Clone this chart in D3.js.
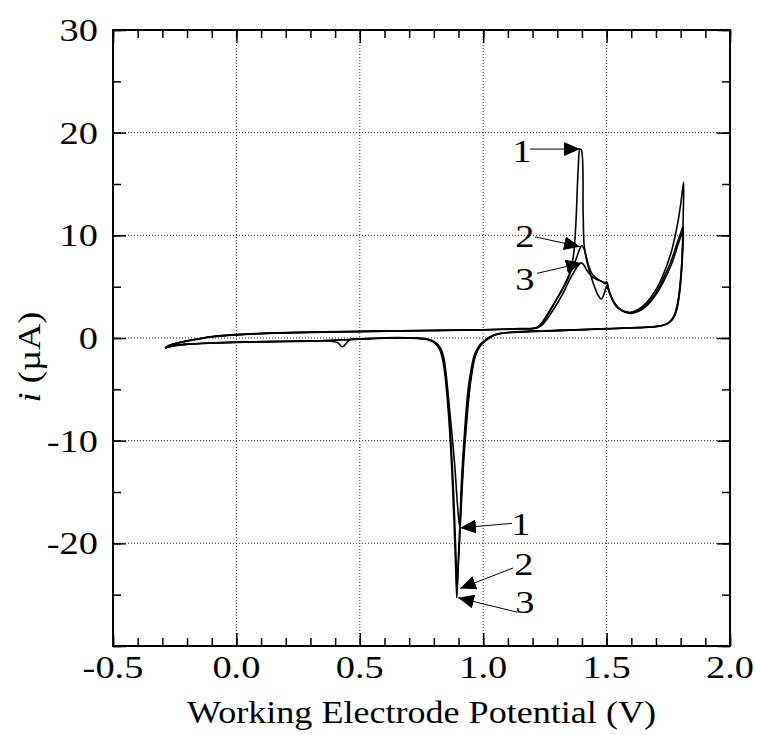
<!DOCTYPE html>
<meta charset="utf-8">
<style>
    body { margin: 0; background: #fff; }
    text { font-family: "Liberation Serif", Tinos, "Times New Roman", Times, "Nimbus Roman", "Nimbus Roman No9 L", FreeSerif, serif; fill: #000; }
    .grid line { stroke: #333; stroke-width: 1px; stroke-dasharray: 1,2; }
    .tick line { stroke: #000; stroke-width: 1.5px; }
    .cv { fill: none; stroke: #000; stroke-width: 1.6px; stroke-linejoin: round; }
    .ann { stroke: #000; stroke-width: 1px; }
</style>
<svg width="757" height="735"></svg>
<script src="https://d3js.org/d3.v7.min.js"></script>
<script>

    // potential (V), current (uA) -- three CV cycles
    var cycle1 = [
        [-0.29,-1.0],[-0.28,-0.8],[-0.26,-0.62],[-0.22,-0.4],[-0.17,-0.15],[-0.1,0.1],[0.0,0.3],[0.1,0.42],
        [0.25,0.52],[0.5,0.62],[0.75,0.7],[1.0,0.78],[1.15,0.88],[1.21,0.95],[1.23,1.25],[1.26,2.3],
        [1.30,3.9],[1.34,5.6],[1.365,7.9],[1.385,16.5],[1.392,18.4],[1.398,18.3],[1.405,12.0],[1.41,8.8],
        [1.425,7.0],[1.445,5.4],[1.465,4.2],[1.478,3.8],[1.49,4.3],[1.50,5.0],[1.515,4.2],[1.535,3.2],
        [1.56,2.7],[1.595,2.5],[1.63,2.8],[1.66,3.4],[1.70,4.7],[1.73,6.2],[1.76,8.2],[1.785,10.8],
        [1.80,13.0],[1.812,15.2],
        [1.811,12.5],[1.808,9.5],[1.803,6.5],[1.795,4.3],[1.785,2.8],[1.77,1.9],[1.75,1.45],[1.72,1.2],
        [1.68,1.08],[1.5,0.9],[1.3,0.72],[1.12,0.55],[1.06,0.4],[1.03,0.15],[1.005,-0.25],[0.985,-0.7],
        [0.965,-1.6],[0.95,-3.2],[0.938,-5.2],[0.928,-8.0],[0.918,-11.5],[0.91,-15.0],[0.905,-18.5],
        [0.895,-16.0],[0.885,-12.5],[0.872,-9.0],[0.86,-6.0],[0.85,-3.6],[0.84,-1.9],[0.826,-0.95],
        [0.805,-0.4],[0.775,-0.12],[0.72,0.0],[0.6,0.02],[0.5,-0.08],[0.46,-0.15],[0.43,-0.85],[0.41,-0.45],
        [0.38,-0.3],[0.3,-0.3],[0.15,-0.35],[0.0,-0.42],[-0.1,-0.5],[-0.2,-0.62],[-0.25,-0.75],[-0.28,-0.9],
        [-0.29,-1.0]
    ];

    var cycle2 = [
        [-0.285,-0.95],[-0.27,-0.72],[-0.25,-0.55],[-0.21,-0.33],[-0.16,-0.1],[-0.1,0.12],[0.0,0.32],[0.1,0.44],
        [0.25,0.54],[0.5,0.64],[0.75,0.72],[1.0,0.8],[1.15,0.9],[1.215,0.98],[1.235,1.3],[1.27,2.6],
        [1.31,4.3],[1.35,6.2],[1.375,7.6],[1.39,8.6],[1.40,9.0],[1.41,8.6],[1.425,7.2],[1.44,6.3],
        [1.46,5.8],[1.48,5.5],[1.495,5.4],[1.50,5.5],[1.51,4.6],[1.53,3.5],[1.555,2.8],[1.59,2.45],
        [1.625,2.6],[1.66,3.2],[1.70,4.4],[1.73,5.8],[1.76,7.4],[1.785,9.2],[1.80,10.2],[1.81,10.8],
        [1.809,9.0],[1.805,7.0],[1.798,5.0],[1.788,3.3],[1.775,2.2],[1.755,1.55],[1.73,1.25],[1.70,1.12],
        [1.5,0.92],[1.3,0.74],[1.12,0.57],[1.065,0.42],[1.035,0.15],[1.01,-0.25],[0.99,-0.7],[0.97,-1.6],
        [0.955,-3.3],[0.943,-5.5],[0.932,-8.5],[0.921,-12.0],[0.912,-16.0],[0.904,-20.0],[0.898,-22.8],
        [0.894,-24.5],[0.89,-21.5],[0.884,-17.5],[0.876,-13.0],[0.866,-8.8],[0.856,-5.6],[0.846,-3.3],
        [0.836,-1.8],[0.822,-0.9],[0.8,-0.38],[0.77,-0.1],[0.7,0.02],[0.6,0.0],[0.5,-0.1],[0.4,-0.2],
        [0.3,-0.28],[0.15,-0.33],[0.0,-0.4],[-0.1,-0.48],[-0.2,-0.6],[-0.25,-0.72],[-0.275,-0.85],[-0.285,-0.95]
    ];

    var cycle3 = [
        [-0.28,-0.9],[-0.265,-0.7],[-0.245,-0.52],[-0.2,-0.3],[-0.15,-0.08],[-0.1,0.13],[0.0,0.33],[0.1,0.45],
        [0.25,0.55],[0.5,0.65],[0.75,0.73],[1.0,0.81],[1.15,0.91],[1.22,1.0],[1.24,1.3],[1.28,2.6],
        [1.32,4.2],[1.355,5.9],[1.38,6.9],[1.395,7.3],[1.405,7.2],[1.42,6.6],[1.44,6.0],[1.46,5.7],
        [1.48,5.5],[1.495,5.3],[1.50,5.4],[1.512,4.4],[1.535,3.3],[1.56,2.7],[1.595,2.4],[1.63,2.6],
        [1.665,3.2],[1.705,4.4],[1.735,5.7],[1.765,7.3],[1.788,9.0],[1.802,10.0],[1.81,10.4],
        [1.808,8.6],[1.803,6.7],[1.796,4.8],[1.786,3.2],[1.772,2.1],[1.752,1.5],[1.725,1.22],[1.70,1.1],
        [1.5,0.9],[1.3,0.72],[1.12,0.56],[1.06,0.4],[1.03,0.12],[1.007,-0.28],[0.988,-0.75],[0.968,-1.7],
        [0.953,-3.4],[0.94,-5.8],[0.929,-8.8],[0.918,-12.5],[0.909,-16.5],[0.901,-20.5],[0.896,-23.5],
        [0.893,-25.3],[0.888,-22.0],[0.882,-18.0],[0.874,-13.5],[0.864,-9.0],[0.854,-5.8],[0.844,-3.4],
        [0.834,-1.9],[0.82,-0.95],[0.798,-0.4],[0.768,-0.12],[0.7,0.0],[0.6,-0.02],[0.5,-0.12],[0.4,-0.22],
        [0.3,-0.3],[0.15,-0.36],[0.0,-0.43],[-0.1,-0.5],[-0.2,-0.6],[-0.24,-0.68],[-0.27,-0.82],[-0.28,-0.9]
    ];

    var xTicks = [-0.5, 0.0, 0.5, 1.0, 1.5, 2.0];
    var yTicks = [-30, -20, -10, 0, 10, 20, 30];
    var yLabels = [-20, -10, 0, 10, 20, 30];

    // arrow labels: text, text pos [E, i], tail [E, i], tip [E, i]
    var labels = ["1", "2", "3", "1", "2", "3"];
    var labelPos = [[1.157,17.1],[1.169,8.9],[1.169,4.7],[1.153,-19.2],[1.165,-23.1],[1.169,-26.8]];
    var arrowTail = [[1.19,18.4],[1.21,9.85],[1.218,6.3],[1.117,-18.05],[1.121,-22.4],[1.137,-26.7]];
    var arrowTip = [[1.392,18.4],[1.392,8.9],[1.400,7.3],[0.906,-18.5],[0.906,-24.4],[0.898,-25.3]];

    var svg = d3.select("svg"),
        pLeft = 113, pRight = 730, pTop = 30, pBottom = 646;

    var x = d3.scaleLinear().domain([-0.5, 2.0]).range([pLeft, pRight]);
    var y = d3.scaleLinear().domain([-30, 30]).range([pBottom, pTop]);

    // the reference numerals are set so that "0.0" is about 48px wide
    var probe = svg.append("text").style("font-size", "31px").text("0.0");
    var k = 48 / probe.node().getComputedTextLength();
    probe.remove();

    function stretch(sel) {
        sel.each(function() {
            var w = this.getComputedTextLength();
            d3.select(this).attr("textLength", w * k).attr("lengthAdjust", "spacingAndGlyphs");
        });
    }

    // grid
    var grid = svg.append("g").attr("class", "grid");
    grid.selectAll(".gx").data(xTicks.slice(1, -1)).enter().append("line")
        .attr("x1", x).attr("x2", x).attr("y1", pTop).attr("y2", pBottom);
    grid.selectAll(".gy").data(yTicks.slice(1, -1)).enter().append("line")
        .attr("y1", y).attr("y2", y).attr("x1", pLeft).attr("x2", pRight);

    // ticks on all four sides, pointing in
    var xMinor = d3.range(-5, 21).map(function(d) { return d / 10; });
    var yMinor = d3.range(-30, 31, 5);
    function ticks(axis, vals, size, tr) {
        svg.append("g").attr("transform", tr)
            .call(axis.tickValues(vals).tickSize(size).tickFormat(""))
            .call(function(g) { g.select(".domain").remove(); });
    }
    ticks(d3.axisBottom(x), xMinor, -8, "translate(0," + pBottom + ")");
    ticks(d3.axisBottom(x), xTicks, -13, "translate(0," + pBottom + ")");
    ticks(d3.axisTop(x), xMinor, -8, "translate(0," + pTop + ")");
    ticks(d3.axisTop(x), xTicks, -13, "translate(0," + pTop + ")");
    ticks(d3.axisLeft(y), yMinor, -8, "translate(" + pLeft + ",0)");
    ticks(d3.axisLeft(y), yTicks, -13, "translate(" + pLeft + ",0)");
    ticks(d3.axisRight(y), yMinor, -8, "translate(" + pRight + ",0)");
    ticks(d3.axisRight(y), yTicks, -13, "translate(" + pRight + ",0)");

    // curves
    var line = d3.line()
        .x(function(d) { return x(d[0]); })
        .y(function(d) { return y(d[1]); })
        .curve(d3.curveCatmullRom.alpha(0.5));

    svg.selectAll(".cv").data([cycle1, cycle2, cycle3]).enter().append("path")
        .attr("class", "cv")
        .attr("d", line);

    // frame
    svg.append("rect")
        .attr("x", pLeft).attr("y", pTop)
        .attr("width", pRight - pLeft).attr("height", pBottom - pTop)
        .attr("fill", "none").attr("stroke", "#000").attr("stroke-width", 2);

    // tick labels
    var xl = svg.append("g").selectAll("text").data(xTicks).enter().append("text")
        .attr("x", x).attr("y", 678)
        .attr("text-anchor", "middle").style("font-size", "31px")
        .text(function(d) { return d.toFixed(1); });
    stretch(xl);

    var yl = svg.append("g").selectAll("text").data(yLabels).enter().append("text")
        .attr("x", 98).attr("y", function(d) { return y(d) + 11; })
        .attr("text-anchor", "end").style("font-size", "31px")
        .text(function(d) { return d; });
    stretch(yl);

    // axis titles
    svg.append("text")
        .attr("x", (pLeft + pRight) / 2).attr("y", 723)
        .attr("text-anchor", "middle").style("font-size", "31px")
        .attr("textLength", 469).attr("lengthAdjust", "spacingAndGlyphs")
        .text("Working Electrode Potential (V)");

    var yt = svg.append("text")
        .attr("transform", "translate(40,357) rotate(-90)")
        .attr("text-anchor", "middle").style("font-size", "31px")
        .attr("textLength", 91).attr("lengthAdjust", "spacingAndGlyphs");
    yt.append("tspan").style("font-style", "italic").text("i");
    yt.append("tspan").text(" (\u00b5A)");

    // arrows
    svg.append("defs").append("marker")
        .attr("id", "head")
        .attr("markerUnits", "userSpaceOnUse")
        .attr("viewBox", "0 0 16 14")
        .attr("markerWidth", 16).attr("markerHeight", 14)
        .attr("refX", 16).attr("refY", 7)
        .attr("orient", "auto")
        .append("path").attr("d", "M0,0L16,7L0,14Z").attr("fill", "#000");

    var idx = d3.range(labels.length);
    svg.append("g").selectAll("line").data(idx).enter().append("line")
        .attr("class", "ann")
        .attr("x1", function(i) { return x(arrowTail[i][0]); })
        .attr("y1", function(i) { return y(arrowTail[i][1]); })
        .attr("x2", function(i) { return x(arrowTip[i][0]); })
        .attr("y2", function(i) { return y(arrowTip[i][1]); })
        .attr("marker-end", "url(#head)");

    var al = svg.append("g").selectAll("text").data(idx).enter().append("text")
        .attr("x", function(i) { return x(labelPos[i][0]); })
        .attr("y", function(i) { return y(labelPos[i][1]); })
        .attr("text-anchor", "middle").style("font-size", "31px")
        .text(function(i) { return labels[i]; });
    stretch(al);

</script>
